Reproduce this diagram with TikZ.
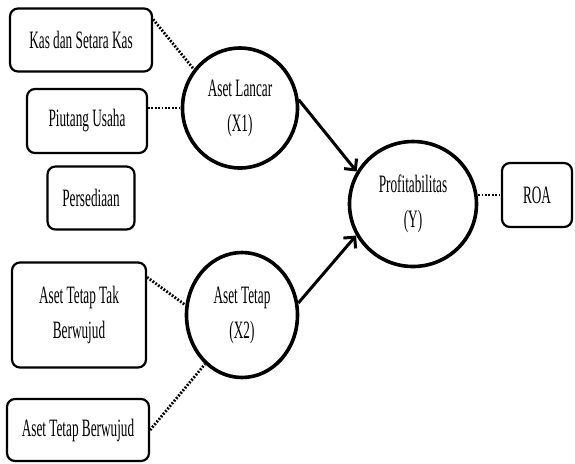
\documentclass[tikz,border=0pt]{standalone}
\usepackage{fontspec}
\setmainfont{Liberation Serif}[FakeStretch=0.53]
\usetikzlibrary{shapes.geometric,arrows.meta}

\begin{document}
\begin{tikzpicture}[
x=0.5pt, y=-0.5pt,
every node/.style={font=\fontsize{12.5}{17.5}\selectfont, align=center},
indikator/.style={rectangle, rounded corners=4pt, draw=black, line width=1.1pt, inner sep=0pt},
variabel/.style={ellipse, draw=black, line width=1.8pt, inner sep=0pt},
link/.style={line width=1.4pt, dash pattern=on 0.9pt off 0.8pt},
effect/.style={line width=1.5pt, -{Straight Barb[length=4pt,width=8pt]}},
]
\useasboundingbox (0,0) rectangle (575,463);

% indikator aset lancar
\node[indikator, minimum width=71pt, minimum height=31.5pt] (kas) at (81,40) {Kas dan Setara Kas};
\node[indikator, minimum width=60pt, minimum height=32pt] (piutang) at (87,121) {Piutang Usaha};
\node[indikator, minimum width=43.5pt, minimum height=31.5pt] (persediaan) at (91,198) {Persediaan};

% indikator aset tetap
\node[indikator, minimum width=67pt, minimum height=52.5pt] (ATTB) at (79,315) {Aset Tetap Tak\\Berwujud};
\node[indikator, minimum width=71pt, minimum height=31pt] (ATB) at (78,430) {Aset Tetap Berwujud};

% variabel
\node[variabel, minimum width=57.5pt, minimum height=60pt] (X1) at (240,108) {Aset Lancar\\(X1)};
\node[variabel, minimum width=55.5pt, minimum height=62.5pt] (X2) at (242,315) {Aset Tetap\\(X2)};
\node[variabel, minimum width=63.5pt, minimum height=62.5pt] (Y) at (413,204) {Profitabilitas\\(Y)};
\node[indikator, minimum width=35pt, minimum height=32pt] (ROA) at (537,195) {ROA};

% garis indikator
\draw[link] (kas.16) -- (X1.140);
\draw[link] (piutang.east |- X1.west) -- (X1.west);
\draw[link] (ATTB.29) -- (X2.170);
\draw[link] (ATB.east) -- (X2.233);
\draw[link] (Y.east |- ROA.west) -- (ROA.west);

% pengaruh
\draw[effect] (X1.8) -- (Y.150);
\draw[effect] (X2.12) -- (Y.209);
\end{tikzpicture}
\end{document}
